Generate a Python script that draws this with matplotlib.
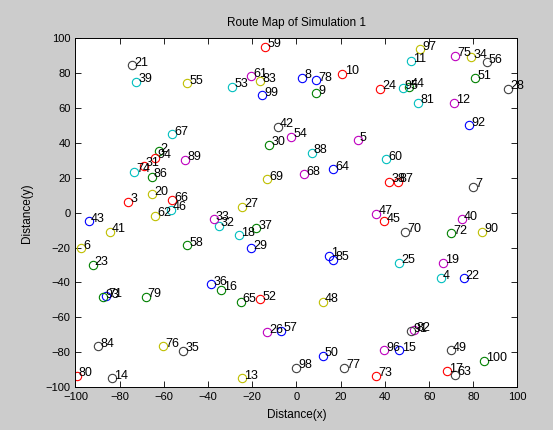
import numpy as np
import matplotlib
matplotlib.use("Agg")
import matplotlib.pyplot as plt

# node positions, node i is ids[i]
ids = list(range(1, 101))
xs = [14.8, -62.4, -76.2, 65.2, 27.7, -97.4, 79.8, 2.7, 8.7, 20.8,
      51.6, 71.2, -24.6, -83.4, 46.6, -34.1, 67.9, -26.1, 66.1, -65.5,
      -74.3, 75.6, -92.3, 37.7, 46.6, -13.3, -24.6, 95.9, -20.5, -12.5,
      -69.1, -35.2, -37.4, 78.9, -51.3, -38.5, -18.1, 41.9, -72.4, 74.7,
      -84.5, -8.4, -94.0, 50.8, 39.7, -57.0, 36.1, 11.9, 69.7, 11.9,
      80.7, -16.3, -29.1, -2.4, -49.5, 86.0, -7.0, -49.5, -14.3, 40.6,
      -20.5, -64.1, 71.9, 16.6, -25.3, -56.2, -56.4, 3.6, -13.3, 49.0,
      -86.1, 69.8, 36.1, -73.3, 71.9, -60.5, 21.7, 8.7, -68.3, -99.5,
      54.9, 53.1, -16.3, -89.7, 16.6, -65.5, 45.8, 6.8, -50.4, 84.0,
      51.9, 78.0, -87.5, -64.1, 48.0, 39.8, 55.8, 0.0, -15.4, 84.9]
ys = [-24.7, 35.2, 6.4, -37.7, 41.5, -20.5, 15.0, 77.3, 68.5, 79.6,
      87.0, 63.1, -95.0, -95.0, -79.0, -44.4, -91.0, -12.9, -28.6, 10.6,
      84.5, -37.7, -29.9, 71.2, -28.6, -68.7, 3.3, 71.2, -20.5, 39.1,
      26.8, -7.6, -3.7, 89.3, -79.2, -41.0, -8.9, 17.9, 75.2, -3.7,
      -10.8, 49.2, -5.0, 72.3, -5.0, 1.6, -0.5, -51.1, -79.0, -82.0,
      77.1, -49.6, 72.3, 43.5, 74.2, 86.4, -67.7, -18.6, 95.2, 30.7,
      78.4, -1.8, -93.0, 24.9, -51.1, 7.2, 45.0, 22.1, 19.2, -10.8,
      -48.0, -11.7, -93.5, 23.4, 89.9, -76.7, -89.1, 75.9, -48.2, -93.5,
      63.1, -67.5, 75.5, -76.7, -27.0, 20.5, 17.9, 34.5, 30.3, -10.8,
      -68.1, 50.1, -48.6, 31.6, 71.3, -79.0, 93.7, -89.1, 67.3, -84.9]

# old matlab default ColorOrder
color_order = [(0, 0, 1), (0, 0.5, 0), (1, 0, 0), (0, 0.75, 0.75),
               (0.75, 0, 0.75), (0.75, 0.75, 0), (0.25, 0.25, 0.25)]

plt.rcParams['font.family'] = ['Liberation Sans', 'DejaVu Sans']
plt.rcParams['axes.prop_cycle'] = plt.cycler(color=color_order)

fig = plt.figure(figsize=(5.53, 4.30), dpi=100, facecolor='#cccccc')
ax = fig.add_axes([0.1365, 0.1, 0.7993, 0.8105])
ax.set_facecolor('white')

for i in range(len(ids)):
    ax.plot(xs[i], ys[i], 'o', markerfacecolor='none', markersize=6, markeredgewidth=0.8)
    ax.text(xs[i] + 1, ys[i] + 1.5, str(ids[i]), fontsize=9, ha='left', va='center')

ax.set_xlim(-100, 100)
ax.set_ylim(-100, 100)
ax.set_xticks(np.arange(-100, 101, 20))
ax.set_yticks(np.arange(-100, 101, 20))
ax.tick_params(direction='in', top=True, right=True, labelsize=8, length=4, width=0.6)
for s in ax.spines.values():
    s.set_linewidth(0.7)
ax.set_title("Route Map of Simulation 1", fontsize=8.5, pad=9)
ax.set_xlabel("Distance(x)", fontsize=8.5, labelpad=5)
ax.set_ylabel("Distance(y)", fontsize=8.5, labelpad=9)

fig.savefig("out.png", dpi=100, facecolor=fig.get_facecolor())
